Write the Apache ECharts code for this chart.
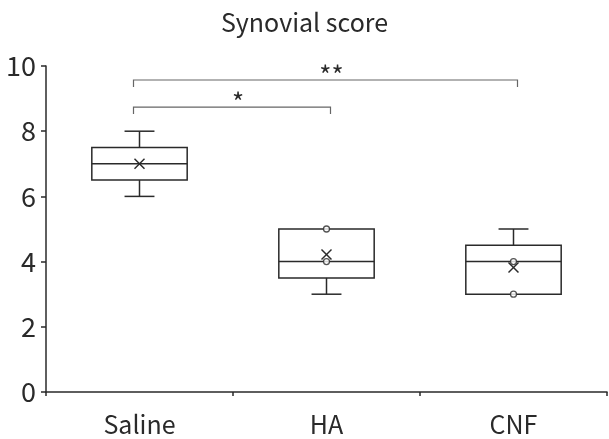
<!DOCTYPE html>
<html><head><meta charset="utf-8">
<script src="https://cdn.jsdelivr.net/npm/echarts@6/dist/echarts.min.js"></script>
<style>html,body{margin:0;padding:0;background:#fff}#c{width:609px;height:439px}</style>
</head><body><div id="c"></div>
<script>
var categories = ['Saline', 'HA', 'CNF'];
// [min, Q1, median, Q3, max]
var boxStats = [
  [6, 6.5, 7, 7.5, 8],
  [3, 3.5, 4, 5, 5],
  [3, 3, 4, 4.5, 5]
];
var means = [7.0, 4.22, 3.82];
// individual points shown as open circles: [categoryIndex, value]
var circlePoints = [[1, 5], [1, 4], [2, 4], [2, 3]];
// significance brackets: [fromCategory, toCategory, value, label]
var brackets = [[0, 1, 8.74, '*'], [0, 2, 9.57, '**']];
var yTicks = [0, 2, 4, 6, 8, 10];

var FONT = '"Noto Sans CJK JP", "Noto Sans", sans-serif';
var INK = '#2a2a2a';

var chart = echarts.init(document.getElementById('c'));
chart.setOption({
  animation: false,
  title: {
    text: 'Synovial score', left: 'center', top: 5,
    textStyle: { fontFamily: FONT, fontSize: 25, fontWeight: 'normal', color: INK }
  },
  grid: { left: 46, right: 2, top: 66, bottom: 47, containLabel: false },
  xAxis: {
    type: 'category', data: categories, boundaryGap: true,
    axisLine: { lineStyle: { color: INK, width: 1.5 } },
    axisTick: { show: true, length: 4, lineStyle: { color: INK, width: 1.5 } },
    axisLabel: { fontFamily: FONT, fontSize: 25, color: INK, margin: 20 },
    splitLine: { show: false }
  },
  yAxis: {
    type: 'value', min: yTicks[0], max: yTicks[yTicks.length - 1], interval: 2,
    axisLine: { show: true, lineStyle: { color: INK, width: 1.5 } },
    axisTick: { show: true, length: 5, lineStyle: { color: INK, width: 1.5 } },
    axisLabel: { fontFamily: FONT, fontSize: 27, color: INK, margin: 10 },
    splitLine: { show: false }
  },
  series: [
    {
      type: 'custom',
      data: boxStats.map(function (s, i) { return [i].concat(s); }),
      renderItem: function (params, api) {
        var x = api.value(0);
        var bw = api.size([1, 0])[0];
        var half = bw * 0.255, cap = bw * 0.08;
        var pMin = api.coord([x, api.value(1)]);
        var pQ1 = api.coord([x, api.value(2)]);
        var pMed = api.coord([x, api.value(3)]);
        var pQ3 = api.coord([x, api.value(4)]);
        var pMax = api.coord([x, api.value(5)]);
        var cx = pMed[0];
        var st = { stroke: INK, lineWidth: 1.5, fill: null };
        var children = [
          { type: 'rect', shape: { x: cx - half, y: pQ3[1], width: half * 2, height: pQ1[1] - pQ3[1] }, style: { stroke: INK, lineWidth: 1.5, fill: '#fff' } },
          { type: 'line', shape: { x1: cx - half, y1: pMed[1], x2: cx + half, y2: pMed[1] }, style: st },
          { type: 'line', shape: { x1: cx, y1: pQ3[1], x2: cx, y2: pMax[1] }, style: st },
          { type: 'line', shape: { x1: cx, y1: pQ1[1], x2: cx, y2: pMin[1] }, style: st }
        ];
        if (pMax[1] < pQ3[1] - 0.5) children.push({ type: 'line', shape: { x1: cx - cap, y1: pMax[1], x2: cx + cap, y2: pMax[1] }, style: st });
        if (pMin[1] > pQ1[1] + 0.5) children.push({ type: 'line', shape: { x1: cx - cap, y1: pMin[1], x2: cx + cap, y2: pMin[1] }, style: st });
        return { type: 'group', children: children };
      },
      z: 2
    },
    {
      type: 'scatter',
      data: circlePoints,
      symbol: 'circle', symbolSize: 6,
      itemStyle: { color: '#fff', borderColor: INK, borderWidth: 1.3 },
      z: 4
    },
    {
      type: 'custom',
      data: means.map(function (m, i) { return [i, m]; }),
      renderItem: function (params, api) {
        var p = api.coord([api.value(0), api.value(1)]);
        var r = 5;
        var st = { stroke: INK, lineWidth: 1.5 };
        return { type: 'group', children: [
          { type: 'line', shape: { x1: p[0] - r, y1: p[1] - r, x2: p[0] + r, y2: p[1] + r }, style: st },
          { type: 'line', shape: { x1: p[0] - r, y1: p[1] + r, x2: p[0] + r, y2: p[1] - r }, style: st }
        ] };
      },
      z: 5
    },
    {
      type: 'custom',
      data: brackets,
      renderItem: function (params, api) {
        var a = api.coord([api.value(0), api.value(2)]);
        var b = api.coord([api.value(1), api.value(2)]);
        var x1 = a[0] - 6, x2 = b[0] + 4, y = a[1];
        var label = brackets[params.dataIndex][3];
        return { type: 'group', children: [
          { type: 'polyline', shape: { points: [[x1, y + 7], [x1, y], [x2, y], [x2, y + 7]] }, style: { stroke: '#666', lineWidth: 1.2, fill: null } },
          { type: 'text', style: { text: label, x: (x1 + x2) / 2 + 6, y: y + 8, align: 'center', verticalAlign: 'bottom', font: '26px ' + FONT, fill: INK } }
        ] };
      },
      z: 3
    }
  ]
});
</script>
</body></html>
